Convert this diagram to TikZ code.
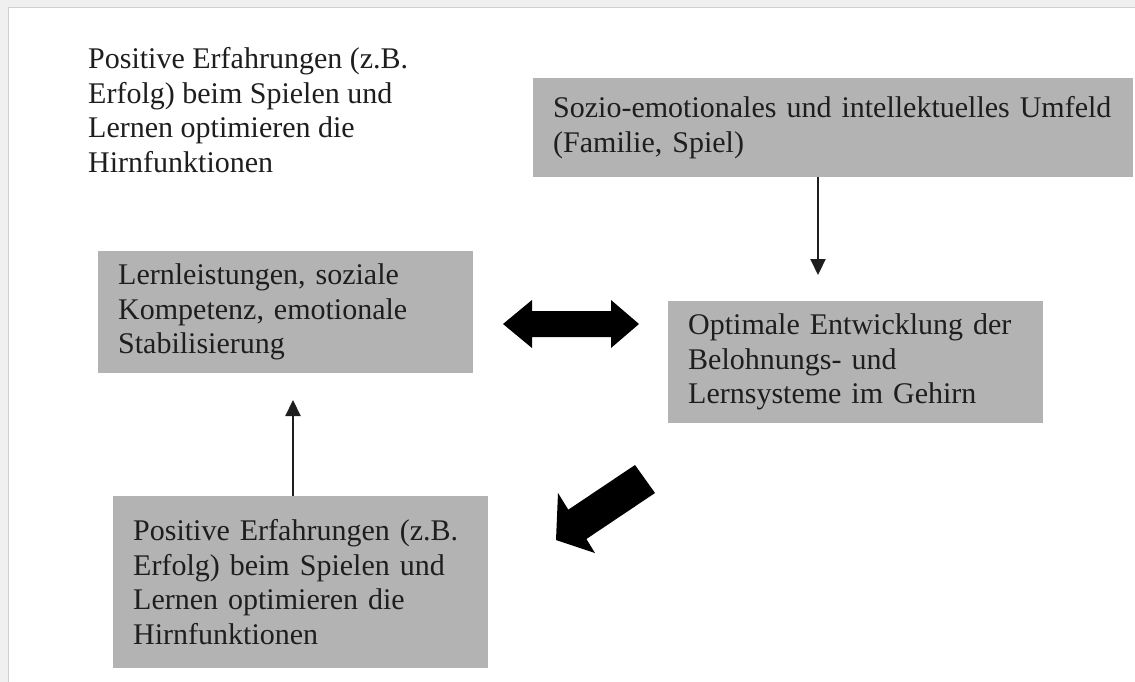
\documentclass[tikz,border=0pt]{standalone}
\usepackage{fontspec}
\setmainfont{Liberation Serif}
\usetikzlibrary{arrows.meta}
\definecolor{boxgray}{HTML}{B3B3B3}
\definecolor{txt}{HTML}{1E1E1E}
\definecolor{band}{HTML}{F0F0F0}
\definecolor{bandline}{HTML}{CFCFCF}
\begin{document}
\begin{tikzpicture}[x=1pt,y=-1pt,
  txtstyle/.style={font=\fontsize{30}{34.5}\selectfont, text=txt, align=left},
  box/.style={txtstyle, fill=boxgray, anchor=north west, inner xsep=20pt, inner ysep=0pt,
    minimum width=375pt, text width=335pt},
  thinarrow/.style={draw=txt, line width=2.2pt, -{Triangle[width=15pt,length=16pt]}},
  blockarrow/.style={fill=black}]
\useasboundingbox (0,0) rectangle (1135,682);
\fill[white] (0,0) rectangle (1135,682);
% outer frame band
\fill[band] (0,0) rectangle (1135,8);
\fill[band] (0,0) rectangle (8,682);
\draw[bandline, line width=1pt] (8,682) -- (8,8) -- (1135,8);

% free text
\node[txtstyle, anchor=west, inner sep=0pt] (intro) at (88,110)
  {Positive Erfahrungen (z.B.\\Erfolg) beim Spielen und\\Lernen optimieren die\\Hirnfunktionen};

% boxes
\node[box, minimum width=600pt, text width=560pt, minimum height=99pt] (env) at (533,78)
  {Sozio-emotionales und intellektuelles Umfeld\\(Familie, Spiel)};
\node[box, minimum height=122pt] (lern) at (98,251)
  {Lernleistungen, soziale\\Kompetenz, emotionale\\Stabilisierung};
\node[box, minimum height=122pt] (opt) at (668,301)
  {Optimale Entwicklung der\\Belohnungs- und\\Lernsysteme im Gehirn};
\node[box, minimum height=172pt] (pos) at (113,496)
  {Positive Erfahrungen (z.B.\\Erfolg) beim Spielen und\\Lernen optimieren die\\Hirnfunktionen};

% thin arrows
\coordinate (e1) at (818,275);
\draw[thinarrow] (env.south -| e1) -- (e1);
\coordinate (e2) at (293,400);
\draw[thinarrow] (pos.north -| e2) -- (e2);

% double block arrow
\fill[blockarrow] (503,324) -- (532,300) -- (532,311) -- (611,311) -- (611,300) -- (639,324)
  -- (611,348) -- (611,337) -- (532,337) -- (532,348) -- cycle;

% diagonal block arrow
\fill[blockarrow] (635,465) -- (568.3,509.7) -- (558,493) -- (556,540) -- (595,553)
  -- (586.4,539) -- (655,493) -- cycle;
\end{tikzpicture}
\end{document}
